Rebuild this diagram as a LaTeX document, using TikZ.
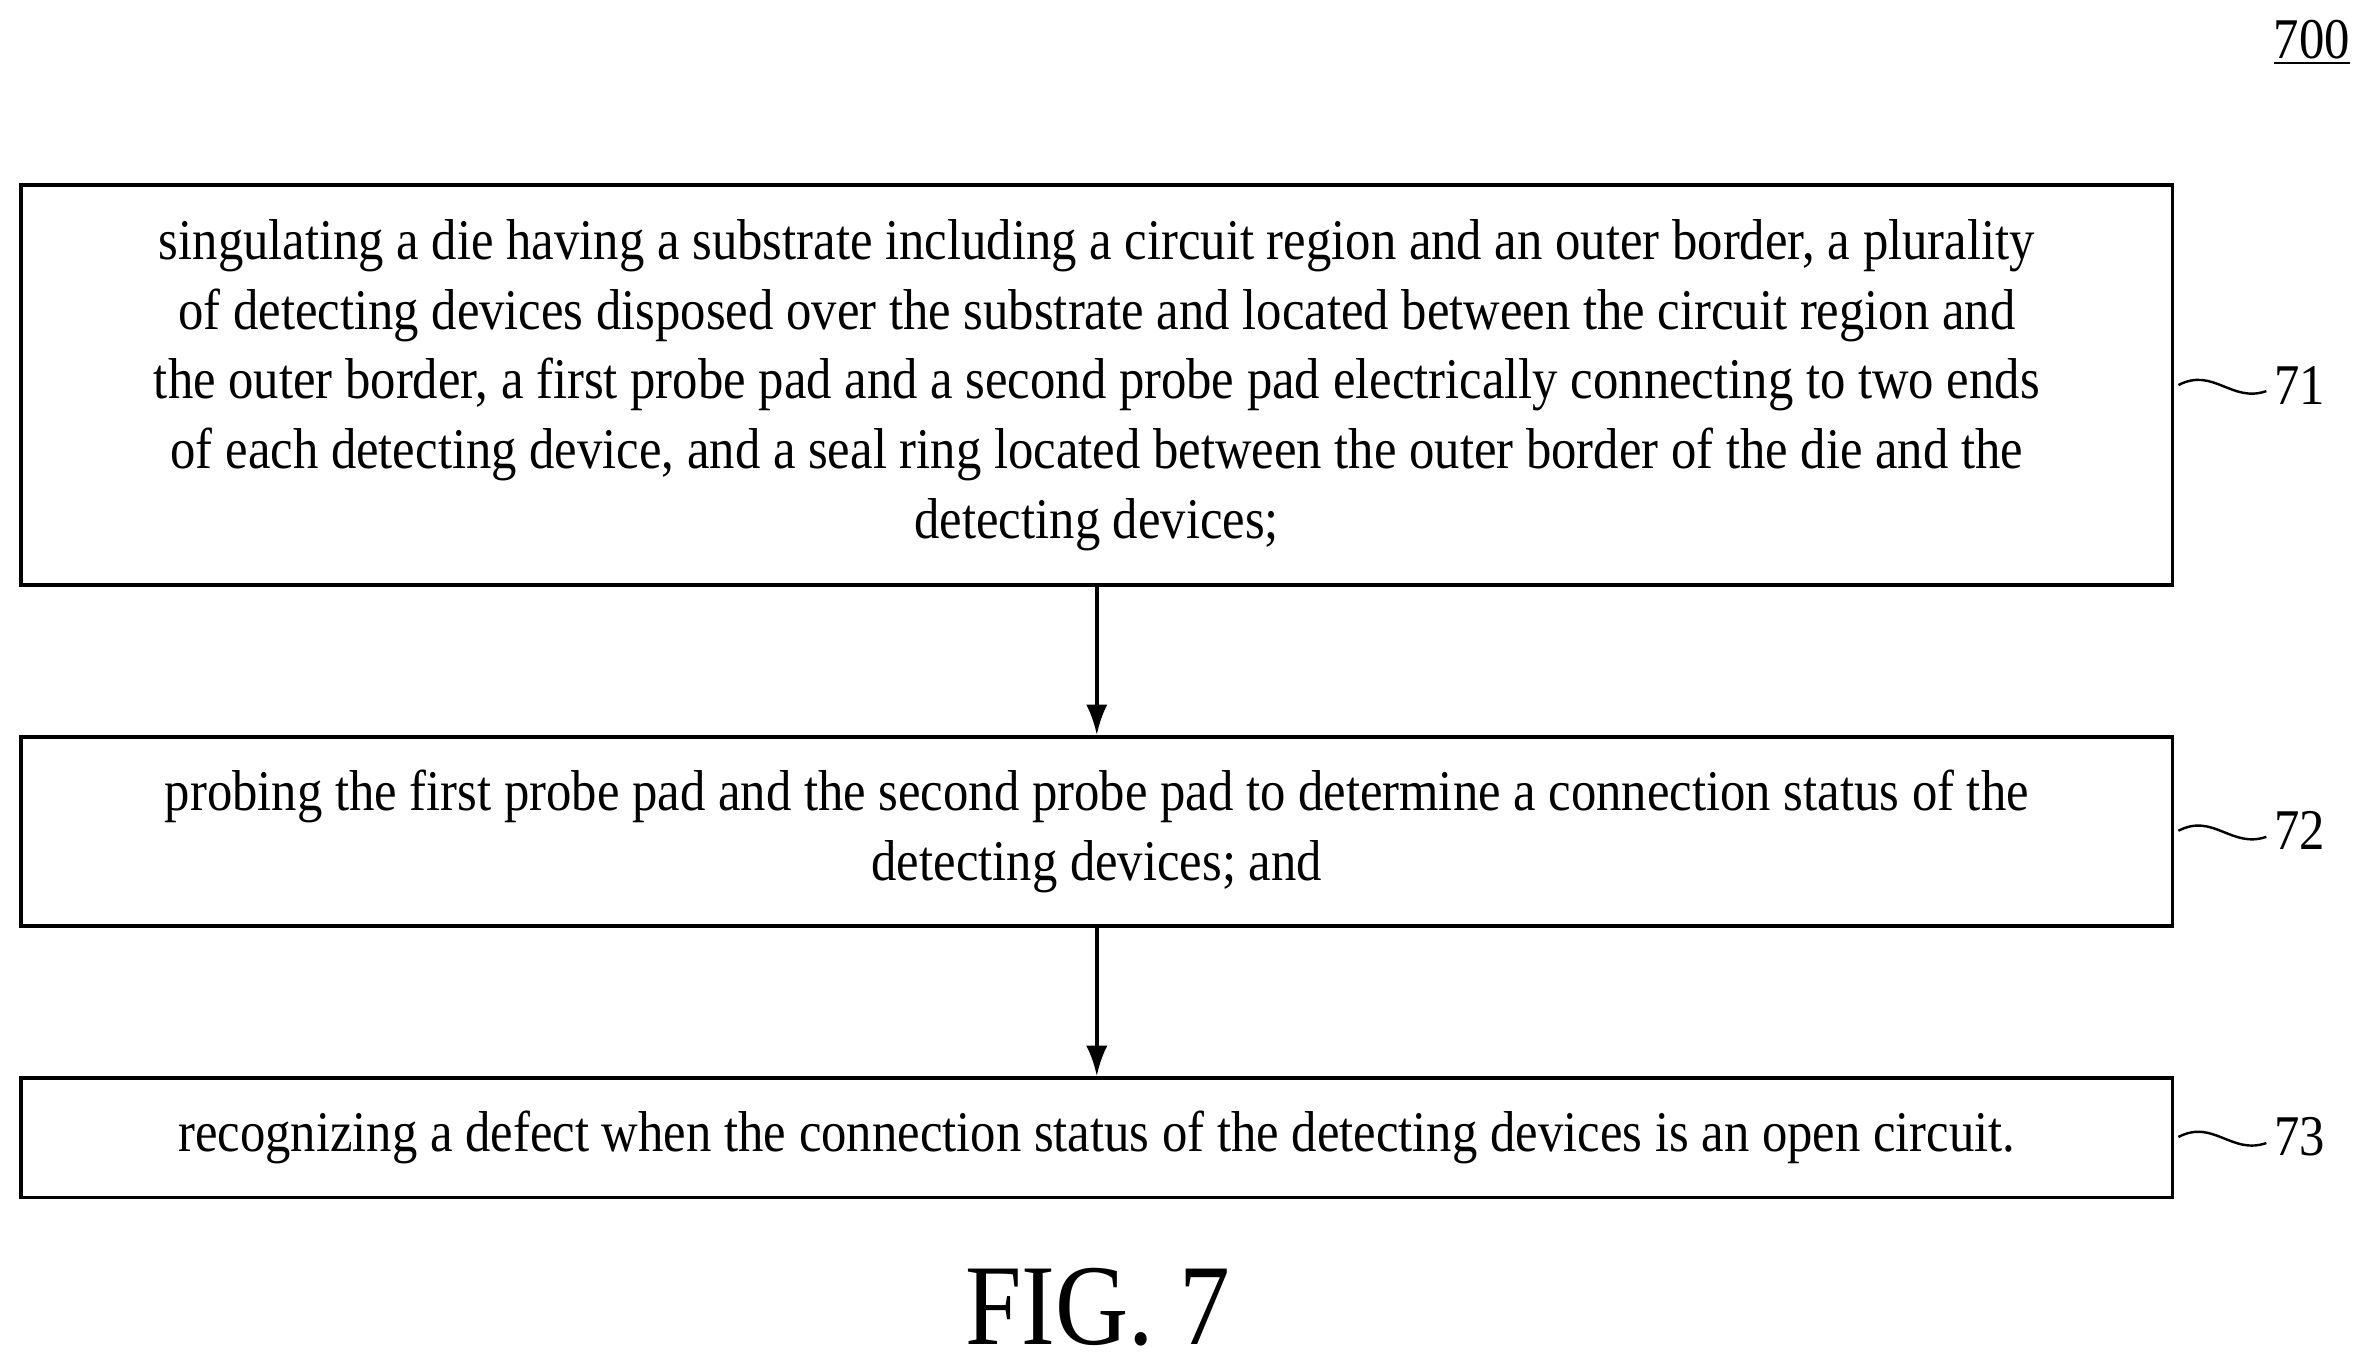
\documentclass[tikz,border=0pt]{standalone}
\usepackage{fontspec}
\setmainfont{Liberation Serif}[FakeStretch=0.88]
\usetikzlibrary{arrows.meta}
\begin{document}
\begin{tikzpicture}[x=0.5pt,y=-0.5pt,
  stepbox/.style={draw,line width=1.2pt,minimum width=709.5pt,align=center,inner sep=0pt,font=\fontsize{19}{23}\selectfont},
  arr/.style={-{Latex[length=10pt,width=7pt]},line width=1.2pt},
  lbl/.style={font=\fontsize{19}{23}\selectfont,anchor=west,inner sep=0pt}]
\useasboundingbox (0,0) rectangle (1568,900);
\node[stepbox,minimum height=132pt] (b1) at (723.5,254) {singulating a die having a substrate including a circuit region and an outer border, a plurality\\ of detecting devices disposed over the substrate and located between the circuit region and\\ the outer border, a first probe pad and a second probe pad electrically connecting to two ends\\ of each detecting device, and a seal ring located between the outer border of the die and the\\ detecting devices;};
\node[stepbox,minimum height=62.5pt] (b2) at (723.5,548.5) {probing the first probe pad and the second probe pad to determine a connection status of the\\ detecting devices; and};
\node[stepbox,minimum height=39.5pt] (b3) at (723.5,750.5) {recognizing a defect when the connection status of the detecting devices is an open circuit.};
\draw[arr] (b1) -- (b2);
\draw[arr] (b2) -- (b3);
\foreach \n/\y/\t in {a/254/71,b/548/72,c/750/73}{
  \coordinate (s\n) at (1437,\y);
  \coordinate (e\n) at (1495,\y+4);
  \draw[line width=0.8pt] (s\n) .. controls (1460,\y-12) and (1472,\y+12) .. (e\n);
  \node[lbl] (l\n) at (1500,\y) {\t};
}
\node[font=\fontsize{19}{23}\selectfont,inner sep=1pt] (n700) at (1525,28) {\underline{700}};
\node[font=\fontsize{38}{44}\selectfont] (fig) at (724,862) {FIG. 7};
\end{tikzpicture}
\end{document}
